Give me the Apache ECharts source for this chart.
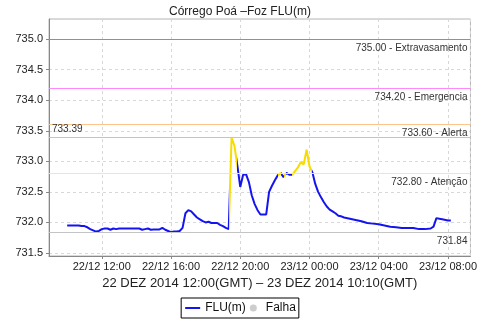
<!DOCTYPE html>
<html>
<head>
<meta charset="utf-8">
<script src="https://cdn.jsdelivr.net/npm/echarts@6/dist/echarts.min.js"></script>
<style>
  html, body { margin: 0; padding: 0; background: #fff; }
  #chart { width: 480px; height: 320px; }
</style>
</head>
<body>
<div id="chart"></div>
<script>
// leituras do nível (FLU) a cada 10 min
var times = [
  "2014-12-22 10:00", "2014-12-22 10:10", "2014-12-22 10:20", "2014-12-22 10:30", "2014-12-22 10:40", "2014-12-22 10:50",
  "2014-12-22 11:00", "2014-12-22 11:10", "2014-12-22 11:20", "2014-12-22 11:30", "2014-12-22 11:40", "2014-12-22 11:50",
  "2014-12-22 12:00", "2014-12-22 12:10", "2014-12-22 12:20", "2014-12-22 12:30", "2014-12-22 12:40", "2014-12-22 12:50",
  "2014-12-22 13:00", "2014-12-22 13:10", "2014-12-22 13:20", "2014-12-22 13:30", "2014-12-22 13:40", "2014-12-22 13:50",
  "2014-12-22 14:00", "2014-12-22 14:10", "2014-12-22 14:20", "2014-12-22 14:30", "2014-12-22 14:40", "2014-12-22 14:50",
  "2014-12-22 15:00", "2014-12-22 15:10", "2014-12-22 15:20", "2014-12-22 15:30", "2014-12-22 15:40", "2014-12-22 15:50",
  "2014-12-22 16:00", "2014-12-22 16:10", "2014-12-22 16:20", "2014-12-22 16:30", "2014-12-22 16:40", "2014-12-22 16:50",
  "2014-12-22 17:00", "2014-12-22 17:10", "2014-12-22 17:20", "2014-12-22 17:30", "2014-12-22 17:40", "2014-12-22 17:50",
  "2014-12-22 18:00", "2014-12-22 18:10", "2014-12-22 18:20", "2014-12-22 18:30", "2014-12-22 18:40", "2014-12-22 18:50",
  "2014-12-22 19:00", "2014-12-22 19:10", "2014-12-22 19:20", "2014-12-22 19:30", "2014-12-22 19:40", "2014-12-22 19:50",
  "2014-12-22 20:00", "2014-12-22 20:10", "2014-12-22 20:20", "2014-12-22 20:30", "2014-12-22 20:40", "2014-12-22 20:50",
  "2014-12-22 21:00", "2014-12-22 21:10", "2014-12-22 21:20", "2014-12-22 21:30", "2014-12-22 21:40", "2014-12-22 21:50",
  "2014-12-22 22:00", "2014-12-22 22:10", "2014-12-22 22:20", "2014-12-22 22:30", "2014-12-22 22:40", "2014-12-22 22:50",
  "2014-12-22 23:00", "2014-12-22 23:10", "2014-12-22 23:20", "2014-12-22 23:30", "2014-12-22 23:40", "2014-12-22 23:50",
  "2014-12-23 00:00", "2014-12-23 00:10", "2014-12-23 00:20", "2014-12-23 00:30", "2014-12-23 00:40", "2014-12-23 00:50",
  "2014-12-23 01:00", "2014-12-23 01:10", "2014-12-23 01:20", "2014-12-23 01:30", "2014-12-23 01:40", "2014-12-23 01:50",
  "2014-12-23 02:00", "2014-12-23 02:20", "2014-12-23 02:40", "2014-12-23 03:00", "2014-12-23 03:20", "2014-12-23 03:40",
  "2014-12-23 04:00", "2014-12-23 04:20", "2014-12-23 04:40", "2014-12-23 05:00", "2014-12-23 05:20", "2014-12-23 05:40",
  "2014-12-23 06:00", "2014-12-23 06:20", "2014-12-23 06:40", "2014-12-23 07:00", "2014-12-23 07:10", "2014-12-23 07:20",
  "2014-12-23 07:30", "2014-12-23 07:40", "2014-12-23 08:00", "2014-12-23 08:10"
];
var levels = [
  731.95, 731.95, 731.95, 731.95, 731.95, 731.94,
  731.94, 731.92, 731.89, 731.87, 731.85, 731.86,
  731.89, 731.90, 731.90, 731.88, 731.90, 731.89,
  731.90, 731.90, 731.90, 731.90, 731.90, 731.90,
  731.90, 731.90, 731.88, 731.89, 731.90, 731.88,
  731.885, 731.885, 731.885, 731.91, 731.88, 731.86,
  731.84, 731.85, 731.85, 731.86, 731.91, 732.15,
  732.20, 732.18, 732.13, 732.08, 732.05, 732.02,
  732.00, 732.01, 731.99, 731.99, 731.99, 731.96,
  731.94, 731.91, 731.89, 733.39, 733.25, 732.93,
  732.58, 732.78, 732.79, 732.66, 732.44, 732.30,
  732.20, 732.13, 732.13, 732.13, 732.50, 732.60,
  732.69, 732.77, 732.81, 732.74, 732.81, 732.78,
  732.78, 732.84, 732.90, 732.99, 732.95, 733.19,
  732.92, 732.82, 732.63, 732.50, 732.41, 732.33,
  732.26, 732.21, 732.18, 732.15, 732.11, 732.10,
  732.08, 732.06, 732.04, 732.02, 731.99, 731.98,
  731.97, 731.95, 731.93, 731.92, 731.91, 731.91,
  731.91, 731.89, 731.89, 731.90, 731.93, 732.07,
  732.06, 732.05, 732.03, 732.03
];

// cotas de referência
var limitValues = [735.00, 734.20, 733.60, 732.80];
var limitNames = ["Extravasamento", "Emergencia", "Alerta", "Atenção"];
var limitColors = ["#e07070", "#ff88ff", "#ffc488", "#fbe98a"];

var xMin = "2014-12-22 08:57";
var xMax = "2014-12-23 09:18";
var yMin = 731.45;
var yMax = 735.33;

var titleText = "Córrego Poá –Foz FLU(m)";
var periodText = "22 DEZ 2014 12:00(GMT) – 23 DEZ 2014 10:10(GMT)";

var FONT = "Liberation Sans";
var BLUE = "#1414f0";
var YELLOW = "#f7dc00";

function toTime(s) {
  return new Date(s.replace(" ", "T") + ":00").getTime();
}
function pad(n) {
  return (n < 10 ? "0" : "") + n;
}

var seriesData = [];
for (var i = 0; i < times.length; i++) {
  seriesData.push([toTime(times[i]), levels[i]]);
}

// trecho amarelo quando o ponto final passa da cota de atenção
var pieces = [];
for (var i = 1; i < seriesData.length; i++) {
  if (levels[i] > limitValues[3]) {
    pieces.push({ gt: seriesData[i - 1][0], lte: seriesData[i][0], color: YELLOW });
  }
}

var lineLabel = {
  show: true,
  position: "insideEndBottom",
  distance: [3, 4],
  color: "#333",
  fontFamily: FONT,
  fontSize: 10
};

var markData = [];
for (var i = 0; i < limitValues.length; i++) {
  markData.push({
    yAxis: limitValues[i],
    lineStyle: { color: limitColors[i], width: 1, type: "solid" },
    label: Object.assign({}, lineLabel, {
      formatter: limitValues[i].toFixed(2) + " - " + limitNames[i]
    })
  });
}
markData.push({
  type: "max",
  lineStyle: { color: "#c4c4c4", width: 1, type: "solid" },
  label: Object.assign({}, lineLabel, {
    position: "insideStartTop",
    distance: [3, 3],
    formatter: function (p) { return p.value.toFixed(2); }
  })
});
markData.push({
  type: "min",
  lineStyle: { color: "#c4c4c4", width: 1, type: "solid" },
  label: Object.assign({}, lineLabel, {
    formatter: function (p) { return p.value.toFixed(2); }
  })
});

var myChart = echarts.init(document.getElementById("chart"));
var option = {
  animation: false,
  backgroundColor: "#fff",
  textStyle: { fontFamily: FONT },
  title: {
    text: titleText,
    left: "center",
    top: 1,
    textStyle: { color: "#222", fontSize: 12, fontWeight: "normal", fontFamily: FONT }
  },
  grid: {
    left: 49,
    right: 8,
    top: 19,
    bottom: 64,
    show: true,
    borderColor: "#b4b4b4",
    borderWidth: 1
  },
  legend: {
    bottom: 2,
    left: "center",
    padding: [4, 3],
    itemGap: 4,
    itemWidth: 15,
    itemHeight: 7,
    borderColor: "#000",
    borderWidth: 1,
    textStyle: { color: "#111", fontSize: 12, fontFamily: FONT },
    data: [
      { name: "FLU(m)", itemStyle: { opacity: 0 } },
      { name: "Falha", icon: "circle" }
    ]
  },
  visualMap: {
    show: false,
    type: "piecewise",
    seriesIndex: 0,
    dimension: 0,
    pieces: pieces,
    outOfRange: { color: BLUE }
  },
  xAxis: {
    type: "time",
    min: toTime(xMin),
    max: toTime(xMax),
    minInterval: 4 * 3600 * 1000,
    maxInterval: 4 * 3600 * 1000,
    name: periodText,
    nameLocation: "middle",
    nameGap: 20,
    nameTextStyle: { color: "#222", fontSize: 13, fontFamily: FONT },
    axisLine: { lineStyle: { color: "#888" } },
    axisTick: { show: true, length: 3, lineStyle: { color: "#888" } },
    axisLabel: {
      color: "#222",
      fontSize: 11,
      margin: 5,
      fontFamily: FONT,
      formatter: function (v) {
        var d = new Date(v);
        return pad(d.getDate()) + "/" + pad(d.getMonth() + 1) + " " + pad(d.getHours()) + ":" + pad(d.getMinutes());
      }
    },
    splitLine: { show: true, lineStyle: { color: "#d8d8d8", type: [3, 3] } }
  },
  yAxis: {
    type: "value",
    min: yMin,
    max: yMax,
    splitNumber: 8,
    axisLine: { show: true, lineStyle: { color: "#888" } },
    axisTick: { show: true, length: 3, lineStyle: { color: "#888" } },
    axisLabel: {
      color: "#222",
      fontSize: 11,
      margin: 6,
      fontFamily: FONT,
      showMinLabel: false,
      showMaxLabel: false,
      formatter: function (v) { return v.toFixed(1); }
    },
    splitLine: { show: true, lineStyle: { color: "#d8d8d8", type: [3, 3] } }
  },
  series: [
    {
      name: "FLU(m)",
      type: "line",
      symbol: "none",
      color: BLUE,
      lineStyle: { width: 2 },
      data: seriesData,
      markLine: {
        silent: true,
        symbol: ["none", "none"],
        data: markData
      },
      z: 3
    },
    {
      name: "Falha",
      type: "scatter",
      color: "#c0c0c0",
      symbol: "circle",
      data: []
    }
  ]
};
myChart.setOption(option);
</script>
</body>
</html>
